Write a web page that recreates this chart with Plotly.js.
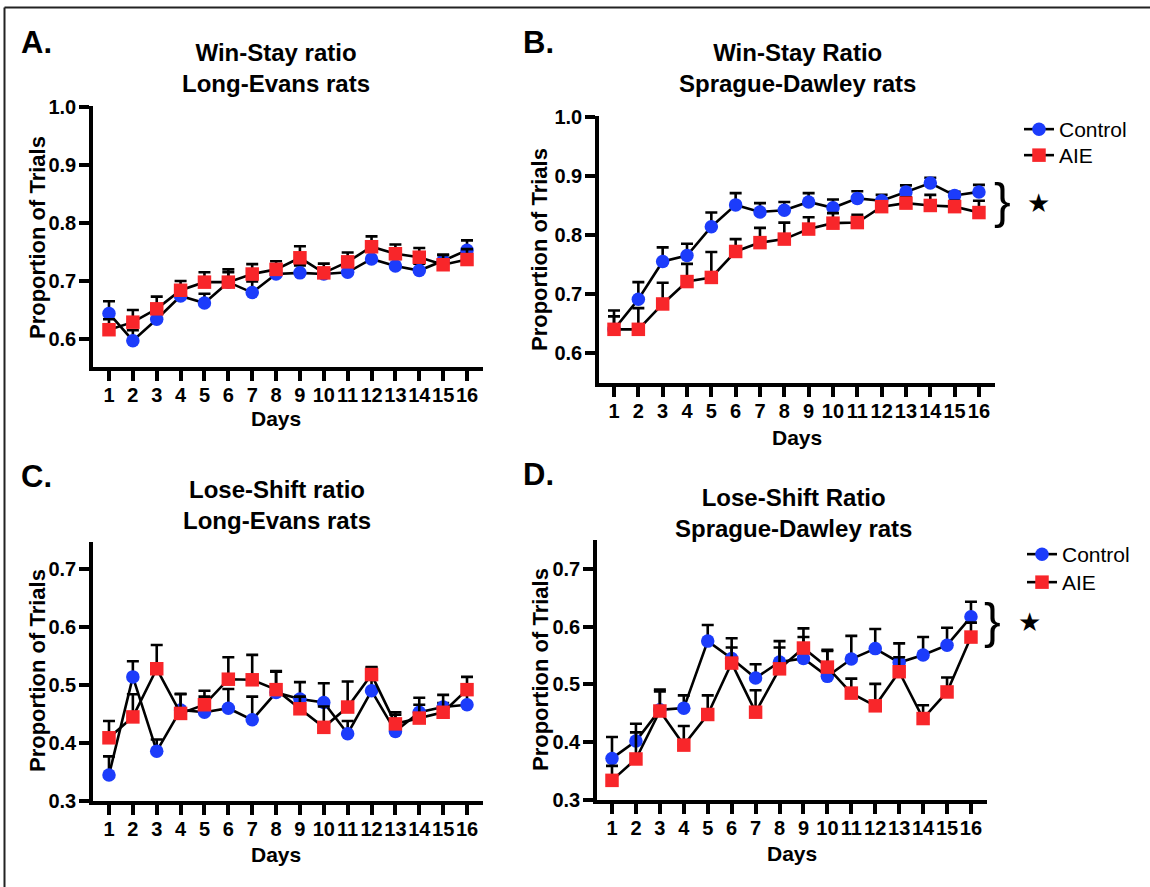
<!DOCTYPE html>
<html>
<head>
<meta charset="utf-8">
<script src="https://cdn.plot.ly/plotly-3.0.1.min.js"></script>
<style>html,body{margin:0;padding:0;background:#fff;}#chart{width:1150px;height:887px;}</style>
</head>
<body>
<div id="chart"></div>
<script>
// ---- data ----
const days = [1,2,3,4,5,6,7,8,9,10,11,12,13,14,15,16];
const seriesNames = ["Control", "AIE"];

// A: Win-Stay ratio, Long-Evans
const winStayLE_control     = [0.644,0.597,0.634,0.674,0.662,0.698,0.680,0.712,0.714,0.712,0.715,0.738,0.726,0.718,0.735,0.753];
const winStayLE_controlErr  = [0.021,0.018,0.014,0.014,0.016,0.017,0.019,0.012,0.013,0.010,0.012,0.014,0.012,0.012,0.010,0.017];
const winStayLE_aie         = [0.616,0.629,0.652,0.684,0.698,0.698,0.712,0.720,0.740,0.714,0.733,0.759,0.747,0.741,0.728,0.737];
const winStayLE_aieErr      = [0.018,0.021,0.021,0.016,0.017,0.022,0.017,0.014,0.020,0.016,0.016,0.018,0.016,0.016,0.017,0.018];

// B: Win-Stay ratio, Sprague-Dawley
const winStaySD_control     = [0.640,0.691,0.755,0.765,0.814,0.851,0.839,0.842,0.856,0.846,0.862,0.858,0.873,0.888,0.867,0.873];
const winStaySD_controlErr  = [0.032,0.029,0.024,0.020,0.024,0.020,0.015,0.014,0.015,0.014,0.012,0.010,0.011,0.009,0.006,0.012];
const winStaySD_aie         = [0.640,0.640,0.683,0.721,0.728,0.772,0.787,0.793,0.810,0.820,0.821,0.848,0.854,0.850,0.848,0.838];
const winStaySD_aieErr      = [0.022,0.036,0.036,0.030,0.043,0.021,0.025,0.028,0.020,0.017,0.013,0.006,0.010,0.018,0.010,0.020];

// C: Lose-Shift ratio, Long-Evans
const loseShiftLE_control    = [0.345,0.514,0.386,0.457,0.453,0.460,0.440,0.487,0.476,0.470,0.416,0.490,0.420,0.453,0.462,0.466];
const loseShiftLE_controlErr = [0.032,0.027,0.020,0.027,0.027,0.033,0.040,0.036,0.029,0.033,0.022,0.040,0.029,0.025,0.007,0.020];
const loseShiftLE_aie        = [0.409,0.445,0.528,0.451,0.466,0.510,0.509,0.492,0.459,0.427,0.462,0.518,0.433,0.443,0.453,0.492];
const loseShiftLE_aieErr     = [0.029,0.039,0.041,0.034,0.024,0.038,0.043,0.032,0.021,0.036,0.044,0.013,0.020,0.023,0.030,0.022];

// D: Lose-Shift ratio, Sprague-Dawley
const loseShiftSD_control    = [0.372,0.402,0.456,0.459,0.575,0.545,0.511,0.539,0.545,0.514,0.544,0.562,0.538,0.551,0.568,0.617];
const loseShiftSD_controlErr = [0.037,0.030,0.035,0.022,0.028,0.035,0.024,0.036,0.037,0.044,0.040,0.034,0.033,0.031,0.030,0.026];
const loseShiftSD_aie        = [0.334,0.371,0.454,0.395,0.448,0.537,0.452,0.527,0.563,0.530,0.485,0.463,0.522,0.441,0.487,0.582];
const loseShiftSD_aieErr     = [0.025,0.046,0.034,0.033,0.033,0.027,0.038,0.037,0.034,0.030,0.025,0.038,0.025,0.023,0.025,0.025];

const panelTitles = ["Win-Stay ratio<br>Long-Evans rats", "Win-Stay Ratio<br>Sprague-Dawley rats",
                     "Lose-Shift ratio<br>Long-Evans rats", "Lose-Shift Ratio<br>Sprague-Dawley rats"];
const panelLetters = ["A.", "B.", "C.", "D."];
const yTicksWin = [0.6, 0.7, 0.8, 0.9, 1.0];
const yTicksLose = [0.3, 0.4, 0.5, 0.6, 0.7];

// ---- layout helpers (pixel -> paper) ----
const W = 1150, H = 887;
const px = v => v / W;
const py = v => 1 - v / H;

const BLUE = '#1c3cfb';
const RED = '#f8262a';
const FONT = 'Arial, "Liberation Sans", Helvetica, sans-serif';

function mkTrace(y, err, name, color, symbol, xa, ya, legend, showlegend) {
  return {
    x: days, y: y, name: name, type: 'scatter', mode: 'lines+markers',
    xaxis: xa, yaxis: ya, legend: legend, showlegend: showlegend,
    line: {color: '#000', width: 2.6},
    marker: {color: color, symbol: symbol, size: 13.5, line: {width: 0}},
    error_y: {type: 'data', symmetric: false, array: err, arrayminus: err.map(() => 0),
              color: '#000', thickness: 2.6, width: 6},
    hoverinfo: 'x+y+name'
  };
}

const data = [
  mkTrace(winStayLE_control, winStayLE_controlErr, seriesNames[0], BLUE, 'circle', 'x', 'y', 'legend', false),
  mkTrace(winStayLE_aie, winStayLE_aieErr, seriesNames[1], RED, 'square', 'x', 'y', 'legend', false),
  mkTrace(winStaySD_control, winStaySD_controlErr, seriesNames[0], BLUE, 'circle', 'x2', 'y2', 'legend', true),
  mkTrace(winStaySD_aie, winStaySD_aieErr, seriesNames[1], RED, 'square', 'x2', 'y2', 'legend2', true),
  mkTrace(loseShiftLE_control, loseShiftLE_controlErr, seriesNames[0], BLUE, 'circle', 'x3', 'y3', 'legend', false),
  mkTrace(loseShiftLE_aie, loseShiftLE_aieErr, seriesNames[1], RED, 'square', 'x3', 'y3', 'legend', false),
  mkTrace(loseShiftSD_control, loseShiftSD_controlErr, seriesNames[0], BLUE, 'circle', 'x4', 'y4', 'legend3', true),
  mkTrace(loseShiftSD_aie, loseShiftSD_aieErr, seriesNames[1], RED, 'square', 'x4', 'y4', 'legend4', true)
];

const tickFont = {family: FONT, size: 20, color: '#000', weight: 700};
function xAxis(x0, x1, yAnchor, range) {
  return {domain: [px(x0), px(x1)], anchor: yAnchor, range: range,
    tickmode: 'array', tickvals: days, ticktext: days.map(String), tickangle: 0,
    showline: true, linecolor: '#000', linewidth: 3.5, mirror: false,
    ticks: 'outside', ticklen: 10, tickwidth: 3.5, tickcolor: '#000', ticklabelstandoff: -3,
    showgrid: false, zeroline: false, tickfont: tickFont, fixedrange: true};
}
function yAxis(top, bottom, xAnchor, range, tv) {
  return {domain: [py(bottom), py(top)], anchor: xAnchor, range: range,
    tickmode: 'array', tickvals: tv, tickformat: '.1f',
    showline: true, linecolor: '#000', linewidth: 3.5,
    ticks: 'outside', ticklen: 10, tickwidth: 3.5, tickcolor: '#000', ticklabelstandoff: -1,
    showgrid: false, zeroline: false, tickfont: tickFont, fixedrange: true};
}

function ann(text, x, y, size, opts) {
  return Object.assign({text: text, x: px(x), y: py(y), xref: 'paper', yref: 'paper',
    xanchor: 'center', yanchor: 'middle', showarrow: false,
    font: {family: FONT, size: size, color: '#000', weight: 700}}, opts || {});
}

const annotations = [
  ann(panelLetters[0], 36, 42, 31), ann(panelLetters[1], 538, 42, 31),
  ann(panelLetters[2], 36, 476, 31), ann(panelLetters[3], 538, 474, 31),
  ann(panelTitles[0], 276, 68, 24), ann(panelTitles[1], 797, 68, 24),
  ann(panelTitles[2], 277, 505, 24), ann(panelTitles[3], 793, 513, 24),
  ann('Days', 276, 418, 21), ann('Days', 797, 437, 21),
  ann('Days', 276, 854, 21), ann('Days', 792, 853, 21),
  ann('Proportion of Trials', 37, 238, 22, {textangle: -90}),
  ann('Proportion of Trials', 540, 250, 22, {textangle: -90}),
  ann('Proportion of Trials', 37, 671, 22, {textangle: -90}),
  ann('Proportion of Trials', 540, 670, 22, {textangle: -90}),
  ann('}', 1002, 201, 50, {font: {family: FONT, size: 50, color: '#000'}}),
  ann('★', 1038, 203, 26, {font: {family: '"DejaVu Sans", sans-serif', size: 26, color: '#000'}}),
  ann('}', 992, 621, 50, {font: {family: FONT, size: 50, color: '#000'}}),
  ann('★', 1029, 622, 26, {font: {family: '"DejaVu Sans", sans-serif', size: 26, color: '#000'}})
];

const legendBase = {xanchor: 'left', yanchor: 'top', bgcolor: 'rgba(0,0,0,0)', borderwidth: 0,
  font: {family: FONT, size: 21, color: '#000'}, itemclick: false, itemdoubleclick: false,
  tracegroupgap: 0, traceorder: 'normal'};

const layout = {
  width: W, height: H, margin: {l: 0, r: 0, t: 0, b: 0},
  paper_bgcolor: '#fff', plot_bgcolor: '#fff', showlegend: true,
  font: {family: FONT, color: '#000'},
  xaxis:  xAxis(93, 483, 'y', [0.33, 16.67]),
  yaxis:  yAxis(106, 367, 'x', [0.5517, 1.0017], yTicksWin),
  xaxis2: xAxis(599, 995, 'y2', [0.383, 16.66]),
  yaxis2: yAxis(116, 383, 'x2', [0.549, 1.0017], yTicksWin),
  xaxis3: xAxis(93, 483, 'y3', [0.33, 16.67]),
  yaxis3: yAxis(542, 801, 'x3', [0.3, 0.7466], yTicksLose),
  xaxis4: xAxis(597, 987, 'y4', [0.373, 16.67]),
  yaxis4: yAxis(540, 800, 'x4', [0.3, 0.750], yTicksLose),
  legend:  Object.assign({x: px(1019), y: py(109)}, legendBase),
  legend2: Object.assign({x: px(1019), y: py(135)}, legendBase),
  legend3: Object.assign({x: px(1022), y: py(534)}, legendBase),
  legend4: Object.assign({x: px(1022), y: py(562)}, legendBase),
  annotations: annotations,
  shapes: [
    {type: 'line', xref: 'paper', yref: 'paper', x0: px(4.5), x1: px(4.5), y0: py(7.5), y1: 0, line: {color: '#222', width: 2}},
    {type: 'line', xref: 'paper', yref: 'paper', x0: px(4.5), x1: 1, y0: py(7.5), y1: py(7.5), line: {color: '#222', width: 2}}
  ]
};

Plotly.newPlot('chart', data, layout, {displayModeBar: false, staticPlot: false, responsive: false});
</script>
</body>
</html>
